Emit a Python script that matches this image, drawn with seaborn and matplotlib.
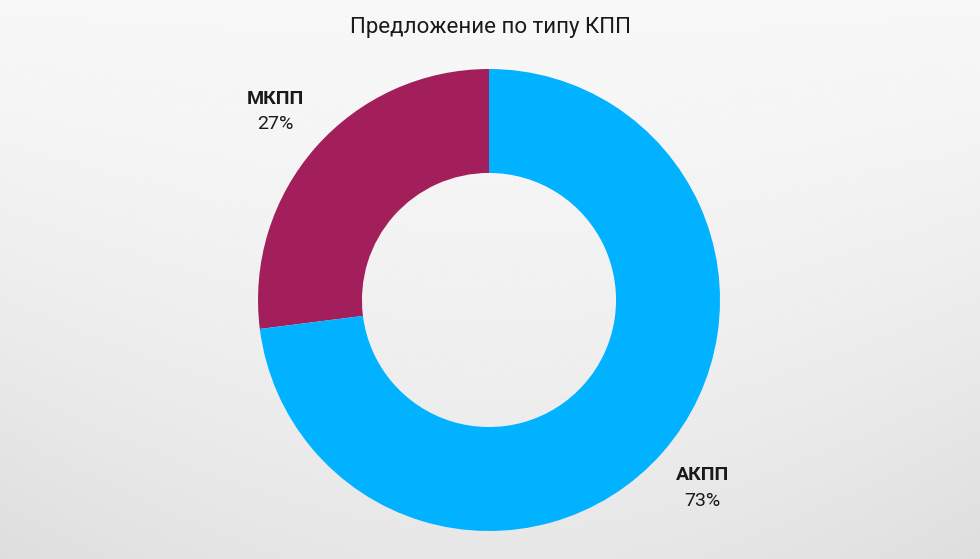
import numpy as np
import matplotlib
matplotlib.use("Agg")
import matplotlib.pyplot as plt
import seaborn as sns

title = "Предложение по типу КПП"
categories = ["МКПП", "АКПП"]
shares = [27, 73]
colors = ["#A21F5C", "#00B2FF"]

sns.set_theme(style="white")
plt.rcParams['font.family'] = ['Roboto', 'DejaVu Sans']

W, H, DPI = 980, 559, 100
fig = plt.figure(figsize=(W / DPI, H / DPI), dpi=DPI)

# background: light grey gradient, lighter at top/centre
bg = fig.add_axes([0, 0, 1, 1], zorder=0)
yy, xx = np.mgrid[0:1:200j, 0:1:350j]
shade = 0.97 - 0.065 * yy ** 1.5 - 0.035 * ((xx - 0.5) * 2) ** 2 * yy
bg.imshow(shade, cmap="gray", vmin=0, vmax=1, aspect="auto",
          extent=[0, 1, 0, 1], origin="upper", interpolation="bicubic")
bg.set_axis_off()

# pie axes: centre (489, 300) px from top, radius 231 px
R = 231
lim = 1.4
side = 2 * lim * R
cx, cy = 489, H - 300
ax = fig.add_axes([(cx - side / 2) / W, (cy - side / 2) / H, side / W, side / H], zorder=1)
ax.set_facecolor("none")

wedges, _ = ax.pie(shares, colors=colors, startangle=90, counterclock=True,
                   radius=1.0, wedgeprops=dict(width=0.45, edgecolor="none"))
ax.set_xlim(-lim, lim)
ax.set_ylim(-lim, lim)
ax.set_aspect("equal")
ax.set_axis_off()

dists = [1.235, 1.23]
for w, cat, val, d in zip(wedges, categories, shares, dists):
    ang = np.deg2rad((w.theta1 + w.theta2) / 2)
    x, y = d * np.cos(ang), d * np.sin(ang)
    ax.text(x, y + 0.055, cat, ha="center", va="center", fontsize=14,
            fontweight="bold", color="#1a1a1a")
    ax.text(x, y - 0.055, f"{val}%", ha="center", va="center", fontsize=14,
            color="#1a1a1a")

fig.text(0.5, 1 - 28 / H, title, ha="center", va="center", fontsize=16, color="#1a1a1a")

fig.savefig("out.png", dpi=DPI)
